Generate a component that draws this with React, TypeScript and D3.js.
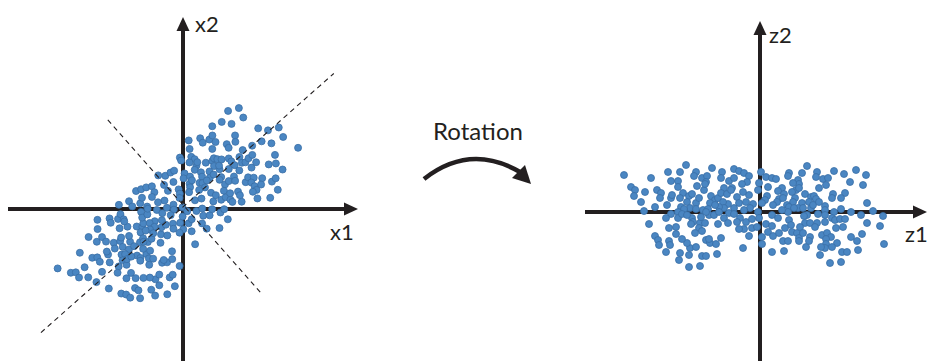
import { useEffect, useRef } from 'react';
import * as d3 from 'd3';

// points of the rotated cloud (z1, z2)
const cloud: [number, number][] = [
  [-136, 37], [-109, 34], [-92, 40], [-80, 40], [-74, 47], [-64, 40], [-66, 36], [-58, 34],
  [-53, 36], [-48, 44], [-54, 30], [-63, 26], [-89, 31], [-82, 31], [-82, 25], [-38, 40],
  [-39, 34], [-31, 31], [-26, 43], [-21, 41], [-16, 39], [-11, 36], [-13, 30], [-18, 28],
  [-26, 34], [-36, 24], [-28, 24], [-129, 25], [-125, 22], [-126, 16], [-115, 20], [-103, 22],
  [-99, 19], [-100, 14], [-119, 10], [-105, 5], [-116, 1], [-93, 7], [-89, 14], [-88, 17],
  [-77, 19], [-80, 14], [-71, 16], [-68, 18], [-73, 10], [-64, 9], [-61, 14], [-70, 4],
  [-56, 22], [-55, 28], [-49, 16], [-45, 12], [-50, 9], [-42, 14], [-39, 19], [-33, 18],
  [-29, 22], [-23, 15], [-21, 9], [-14, 10], [-11, 17], [-7, 8], [-10, 4], [-16, 2],
  [-26, 4], [-32, 8], [-37, 10], [-36, 4], [-41, 5], [-45, 7], [-57, 2], [-52, 3],
  [-64, 3], [-79, 5], [-76, 3], [-82, 0], [-89, -2], [-94, -6], [-82, -6], [-111, -12],
  [-91, -16], [-84, -15], [-84, -22], [-68, -6], [-67, -10], [-69, -12], [-60, -11], [-55, -11],
  [-61, -16], [-51, -3], [-46, -3], [-41, 0], [-36, -6], [-31, -1], [-26, -2], [-20, -6],
  [-23, -10], [-14, -10], [-8, -7], [-8, -16], [-16, -17], [-21, -17], [-32, -11], [-42, -12],
  [-65, -21], [-58, -19], [-54, -28], [-50, -31], [-51, -27], [-44, -32], [-39, -26], [-43, -42],
  [-58, -44], [-54, -44], [-71, -43], [-71, -55], [-60, -54], [-80, -41], [-81, -48], [-70, -36],
  [-73, -31], [-78, -27], [-64, -35], [-105, -24], [-102, -28], [-101, -33], [-91, -29], [-90, -33],
  [-94, -40], [-17, -36], [-11, -24], [-17, 20], [-54, 0], [-59, -5], [-78, -2], [-73, -3],
  [1, 40], [6, 35], [12, 34], [16, 33], [-1, 29], [8, 25], [-2, 22], [29, 39],
  [28, 36], [42, 39], [47, 46], [57, 40], [56, 35], [63, 33], [68, 34], [74, 41],
  [84, 38], [96, 42], [106, 37], [90, 30], [103, 27], [66, 27], [59, 24], [38, 32],
  [39, 28], [33, 29], [36, 22], [39, 24], [22, 24], [18, 21], [24, 18], [19, 13],
  [32, 20], [35, 14], [33, 10], [7, 16], [5, 12], [17, 10], [13, 7], [2, 9],
  [27, 7], [29, 5], [23, 14], [45, 18], [51, 15], [54, 16], [56, 13], [49, 10],
  [42, 9], [38, 4], [43, 4], [47, -3], [51, 4], [53, 7], [59, 10], [65, 6],
  [65, 2], [73, 18], [72, 14], [85, 19], [81, 14], [107, 9], [113, 1], [123, -4],
  [101, -3], [91, 0], [81, 3], [74, 0], [72, -6], [65, -3], [58, -2], [44, -4],
  [34, 4], [28, 0], [22, 2], [12, -3], [18, -6], [-2, 0], [-1, -6], [-3, -15],
  [6, -12], [12, -14], [8, -20], [13, -24], [2, -25], [2, -32], [19, -21], [25, -16],
  [29, -8], [31, -13], [32, -20], [37, -21], [39, -26], [39, -29], [45, -11], [50, -11],
  [57, -11], [55, -15], [65, -10], [75, -8], [80, -7], [85, -7], [76, -16], [83, -15],
  [62, -23], [67, -21], [71, -25], [66, -27], [66, -32], [65, -36], [77, -31], [72, -35],
  [61, -35], [60, -43], [70, -51], [81, -50], [82, -40], [87, -40], [91, -25], [97, -29],
  [102, -22], [98, -38], [107, -11], [120, -14], [124, -32], [23, -29], [28, -29], [12, -40],
  [24, -39], [46, -35], [50, -25], [49, -29], [40, -15], [43, -21],
];

// the original cloud is the same set turned back by this angle about its centre
const angleDeg = 41.5;
const cloudCentre: [number, number] = [1, 3];
// principal axes drawn dashed: [from, to] along each direction
const axis1Extent: [number, number] = [-191, 200];
const axis2Extent: [number, number] = [-115, 116];

const leftLabels = ['x1', 'x2'];
const rightLabels = ['z1', 'z2'];
const arrowText = 'Rotation';

const W = 928;
const H = 361;
const INK = '#231f20';
const DOT = '#4a86c2';
const DOT_STROKE = '#3a6ea6';
const FONT = 'Lato, "Open Sans", sans-serif';

export default function App() {
  const ref = useRef<SVGSVGElement>(null);

  useEffect(() => {
    if (!ref.current) return;
    const svg = d3.select(ref.current);
    svg.selectAll('*').remove();

    const th = (angleDeg * Math.PI) / 180;
    const rot = ([a, b]: [number, number]): [number, number] => [
      cloudCentre[0] + a * Math.cos(th) - b * Math.sin(th),
      cloudCentre[1] + a * Math.sin(th) + b * Math.cos(th),
    ];

    const xL = d3.scaleLinear().domain([-175, 175]).range([8, 358]);
    const yL = d3.scaleLinear().domain([-152, 192]).range([361, 17]);
    const xR = d3.scaleLinear().domain([-175, 167]).range([585, 927]);
    const yR = d3.scaleLinear().domain([-149, 191]).range([361, 21]);

    const drawAxes = (
      g: d3.Selection<SVGGElement, unknown, null, undefined>,
      x: d3.ScaleLinear<number, number>,
      y: d3.ScaleLinear<number, number>,
    ) => {
      const [x0, x1] = x.range();
      const [y0, y1] = y.range();
      const ox = x(0);
      const oy = y(0);
      const head = 14;
      const half = 6.5;
      g.append('line')
        .attr('x1', x0).attr('x2', x1 - head + 2)
        .attr('y1', oy).attr('y2', oy)
        .attr('stroke', INK).attr('stroke-width', 4);
      g.append('path')
        .attr('d', `M${x1},${oy} L${x1 - head},${oy - half} L${x1 - head},${oy + half} Z`)
        .attr('fill', INK);
      g.append('line')
        .attr('x1', ox).attr('x2', ox)
        .attr('y1', y0).attr('y2', y1 + head - 2)
        .attr('stroke', INK).attr('stroke-width', 4);
      g.append('path')
        .attr('d', `M${ox},${y1} L${ox - half},${y1 + head} L${ox + half},${y1 + head} Z`)
        .attr('fill', INK);
    };

    const drawDots = (
      g: d3.Selection<SVGGElement, unknown, null, undefined>,
      pts: [number, number][],
      x: d3.ScaleLinear<number, number>,
      y: d3.ScaleLinear<number, number>,
    ) => {
      g.selectAll('circle')
        .data(pts)
        .join('circle')
        .attr('cx', (d) => x(d[0]))
        .attr('cy', (d) => y(d[1]))
        .attr('r', 3.5)
        .attr('fill', DOT)
        .attr('stroke', DOT_STROKE)
        .attr('stroke-width', 0.8);
    };

    // left panel
    const left = svg.append('g');
    drawAxes(left, xL, yL);
    drawDots(left.append('g'), cloud.map(rot), xL, yL);

    const dashed = left.append('g')
      .attr('stroke', INK)
      .attr('stroke-width', 1.1)
      .attr('stroke-dasharray', '5,4')
      .attr('fill', 'none');
    const a1 = axis1Extent.map((t) => rot([t, 0]));
    const a2 = axis2Extent.map((t) => rot([0, t]));
    [a1, a2].forEach((seg) => {
      dashed.append('line')
        .attr('x1', xL(seg[0][0])).attr('y1', yL(seg[0][1]))
        .attr('x2', xL(seg[1][0])).attr('y2', yL(seg[1][1]));
    });

    const label = (
      g: d3.Selection<SVGGElement, unknown, null, undefined>,
      x: number, y: number, t: string,
    ) => g.append('text')
      .attr('x', x).attr('y', y)
      .attr('font-size', 22).attr('font-family', FONT).attr('fill', INK)
      .text(t);

    label(left, 330, 240, leftLabels[0]);
    label(left, 195, 32, leftLabels[1]);

    // right panel
    const right = svg.append('g');
    drawAxes(right, xR, yR);
    drawDots(right.append('g'), cloud, xR, yR);
    label(right, 905, 242, rightLabels[0]);
    label(right, 769, 43, rightLabels[1]);

    // rotation arrow
    const mid = svg.append('g');
    mid.append('text')
      .attr('x', 478).attr('y', 140)
      .attr('text-anchor', 'middle')
      .attr('font-size', 24).attr('font-family', FONT).attr('fill', INK)
      .text(arrowText);
    const p = d3.path();
    p.moveTo(424, 179);
    p.quadraticCurveTo(470, 143, 520, 172);
    mid.append('path')
      .attr('d', p.toString())
      .attr('fill', 'none')
      .attr('stroke', INK)
      .attr('stroke-width', 4.5);
    mid.append('path')
      .attr('d', 'M531,184 L512,178 L525,165 Z')
      .attr('fill', INK);
  }, []);

  return (
    <svg
      ref={ref}
      width={W}
      height={H}
      viewBox={`0 0 ${W} ${H}`}
      style={{ position: 'absolute', left: 0, top: 0, background: '#fff' }}
    />
  );
}
